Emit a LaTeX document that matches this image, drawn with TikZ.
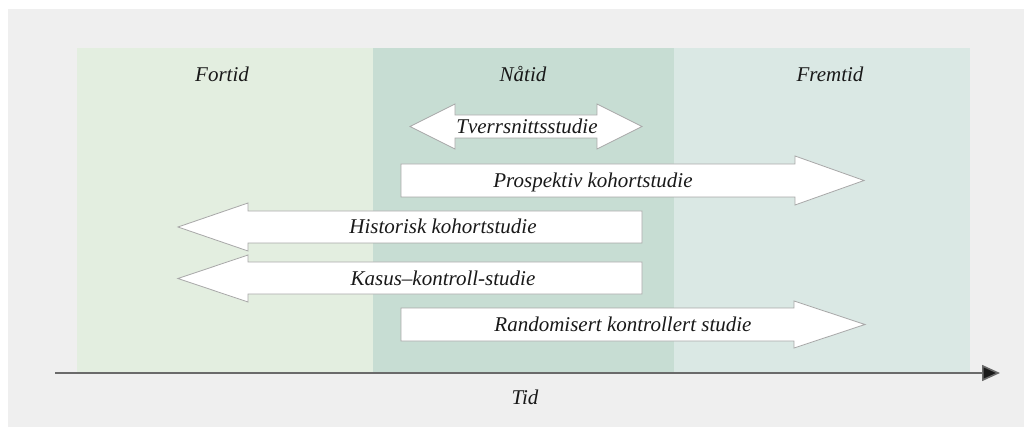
\documentclass[tikz,border=0pt]{standalone}
\usepackage{fontspec}
\setmainfont{Liberation Serif}
\usetikzlibrary{arrows.meta}
\definecolor{bggray}{HTML}{EFEFEF}
\definecolor{pastc}{HTML}{E3EEE0}
\definecolor{nowc}{HTML}{C7DDD3}
\definecolor{futc}{HTML}{DAE8E4}
\definecolor{arrline}{HTML}{A8A8A8}
\definecolor{axisc}{HTML}{6A6A6A}
\tikzset{
  studyarrow/.style={fill=white, draw=arrline, line width=0.8pt, line join=miter},
  lbl/.style={font=\itshape\fontsize{21}{24}\selectfont, text=black!90, inner sep=0pt, anchor=base},
  ttl/.style={font=\itshape\fontsize{21}{24}\selectfont, text=black!90, inner sep=0pt, anchor=base}
}
\begin{document}
\begin{tikzpicture}[x=1pt,y=-1pt]
\useasboundingbox (0,0) rectangle (1024,427);
\fill[white] (0,0) rectangle (1024,427);
\fill[bggray] (8,9) rectangle (1024,427);
% panels
\fill[pastc] (77,48) rectangle (373,373);
\fill[nowc] (373,48) rectangle (674,373);
\fill[futc] (674,48) rectangle (970,373);
\node[ttl] (fortid) at (222,82) {Fortid};
\node[ttl] (natid) at (523,82) {Nåtid};
\node[ttl] (fremtid) at (830,82) {Fremtid};
% Tverrsnittsstudie (double arrow)
\draw[studyarrow] (410,126.5) -- (455,104) -- (455,115) -- (597,115) -- (597,104) -- (642,126.5)
  -- (597,149) -- (597,138) -- (455,138) -- (455,149) -- cycle;
\node[lbl] (tv) at (527,133.5) {Tverrsnittsstudie};
% Prospektiv
\draw[studyarrow] (401,164) -- (795,164) -- (795,156) -- (864,180.5) -- (795,205) -- (795,197) -- (401,197) -- cycle;
\node[lbl] (pk) at (593,188) {Prospektiv kohortstudie};
% Historisk
\draw[studyarrow] (642,211) -- (248,211) -- (248,203) -- (178,227) -- (248,251) -- (248,243) -- (642,243) -- cycle;
\node[lbl] (hk) at (443,234) {Historisk kohortstudie};
% Kasus
\draw[studyarrow] (642,262) -- (248,262) -- (248,255) -- (178,278.5) -- (248,302) -- (248,294) -- (642,294) -- cycle;
\node[lbl] (kk) at (443,285.5) {Kasus–kontroll-studie};
% Randomisert
\draw[studyarrow] (401,308) -- (794,308) -- (794,301) -- (865,324.5) -- (794,348) -- (794,341) -- (401,341) -- cycle;
\node[lbl] (rk) at (623,331.5) {Randomisert kontrollert studie};
% axis
\coordinate (ax0) at (55,373);
\coordinate (ax1) at (1000,373);
\draw[axisc, line width=1.6pt, -{Triangle[length=18pt,width=16pt,fill=black!90]}] (ax0) -- (ax1);
\node[lbl] (tid) at (525,404) {Tid};
\end{tikzpicture}
\end{document}
